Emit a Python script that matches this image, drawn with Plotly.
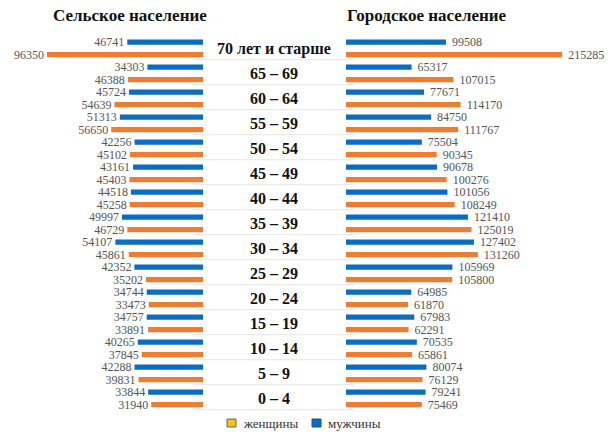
import plotly.graph_objects as go

W, H = 609, 434

ages = ["70 лет и старше", "65 – 69", "60 – 64", "55 – 59", "50 – 54", "45 – 49",
        "40 – 44", "35 – 39", "30 – 34", "25 – 29", "20 – 24", "15 – 19",
        "10 – 14", "5 – 9", "0 – 4"]
rural_male = [46741, 34303, 45724, 51313, 42256, 43161, 44518, 49997, 54107,
              42352, 34744, 34757, 40265, 42288, 33844]
rural_female = [96350, 46388, 54639, 56650, 45102, 45403, 45258, 46729, 45861,
                35202, 33473, 33891, 37845, 39831, 31940]
urban_male = [99508, 65317, 77671, 84750, 75504, 90678, 101056, 121410, 127402,
              105969, 64985, 67983, 70535, 80074, 79241]
urban_female = [215285, 107015, 114170, 111767, 90345, 100276, 108249, 125019,
                131260, 105800, 61870, 62291, 65861, 76129, 75469]

BLUE = "#0A6CC2"
ORANGE = "#EE7D31"
SERIF = "Liberation Serif, Times New Roman, serif"
LBL = dict(family=SERIF, size=12, color="#555555")
NB = "\u00a0"

n = len(ages)
male_pos = [2 * i for i in range(n)]
female_pos = [2 * i + 1 for i in range(n)]

fig = go.Figure()

def add(vals, pos, color, xaxis, name, side):
    if side == "left":
        tmpl = "%{text}" + NB
    else:
        tmpl = NB + NB + "%{text}"
    fig.add_trace(go.Bar(
        x=vals, y=pos, orientation="h", width=0.42,
        marker=dict(color=color, line=dict(width=0)),
        text=[str(v) for v in vals],
        texttemplate=tmpl, textposition="outside",
        textfont=LBL, outsidetextfont=LBL, constraintext="none", cliponaxis=False,
        xaxis=xaxis, yaxis="y", name=name, showlegend=False,
        hoverinfo="x+name"))

add(rural_male, male_pos, BLUE, "x", "мужчины", "left")
add(rural_female, female_pos, ORANGE, "x", "женщины", "left")
add(urban_male, male_pos, BLUE, "x2", "мужчины", "right")
add(urban_female, female_pos, ORANGE, "x2", "женщины", "right")

# separators and age labels
shapes = []
annotations = []
for i, a in enumerate(ages):
    yl = 2 * i + 1.42
    shapes.append(dict(type="line", xref="paper", yref="y",
                       x0=193 / W, x1=355 / W, y0=yl, y1=yl,
                       line=dict(color="#E6E6E6", width=1)))
    annotations.append(dict(text="<b>%s</b>" % a, xref="paper", yref="y",
                            x=274 / W, y=2 * i + 0.55, showarrow=False,
                            font=dict(family=SERIF, size=16, color="#111111"),
                            xanchor="center", yanchor="middle"))

annotations.append(dict(text="<b>Сельское население</b>", xref="paper", yref="paper",
                        x=130 / W, y=1 - 15 / H, showarrow=False,
                        font=dict(family=SERIF, size=17, color="#111111"),
                        xanchor="center", yanchor="middle"))
annotations.append(dict(text="<b>Городское население</b>", xref="paper", yref="paper",
                        x=427 / W, y=1 - 15 / H, showarrow=False,
                        font=dict(family=SERIF, size=17, color="#111111"),
                        xanchor="center", yanchor="middle"))

# legend (drawn)
for x0, fill, border, label in [(227, "#FFC000", "#4A6FA5", "женщины"),
                                (312, "#0A6CC2", "#1F4E8C", "мужчины")]:
    shapes.append(dict(type="rect", xref="paper", yref="paper",
                       x0=x0 / W, x1=(x0 + 9) / W, y0=1 - 427 / H, y1=1 - 419 / H,
                       fillcolor=fill, line=dict(color=border, width=1)))
    annotations.append(dict(text=label, xref="paper", yref="paper",
                            x=(x0 + 14) / W, y=1 - 423 / H, showarrow=False,
                            font=dict(family=SERIF, size=13, color="#333333"),
                            xanchor="left", yanchor="middle"))

left_scale = 0.00162
right_scale = 0.001004
fig.update_layout(
    width=W, height=H,
    margin=dict(l=0, r=0, t=0, b=0),
    paper_bgcolor="white", plot_bgcolor="white",
    barmode="overlay",
    xaxis=dict(domain=[0, 203 / W], range=[203 / left_scale, 0],
               visible=False, fixedrange=True),
    xaxis2=dict(domain=[346 / W, 1], range=[0, (W - 346) / right_scale],
                visible=False, fixedrange=True, anchor="y"),
    yaxis=dict(range=[(H - 42) / 12.5, -42 / 12.5], visible=False, fixedrange=True),
    shapes=shapes, annotations=annotations,
)

fig.write_html("out.html")
